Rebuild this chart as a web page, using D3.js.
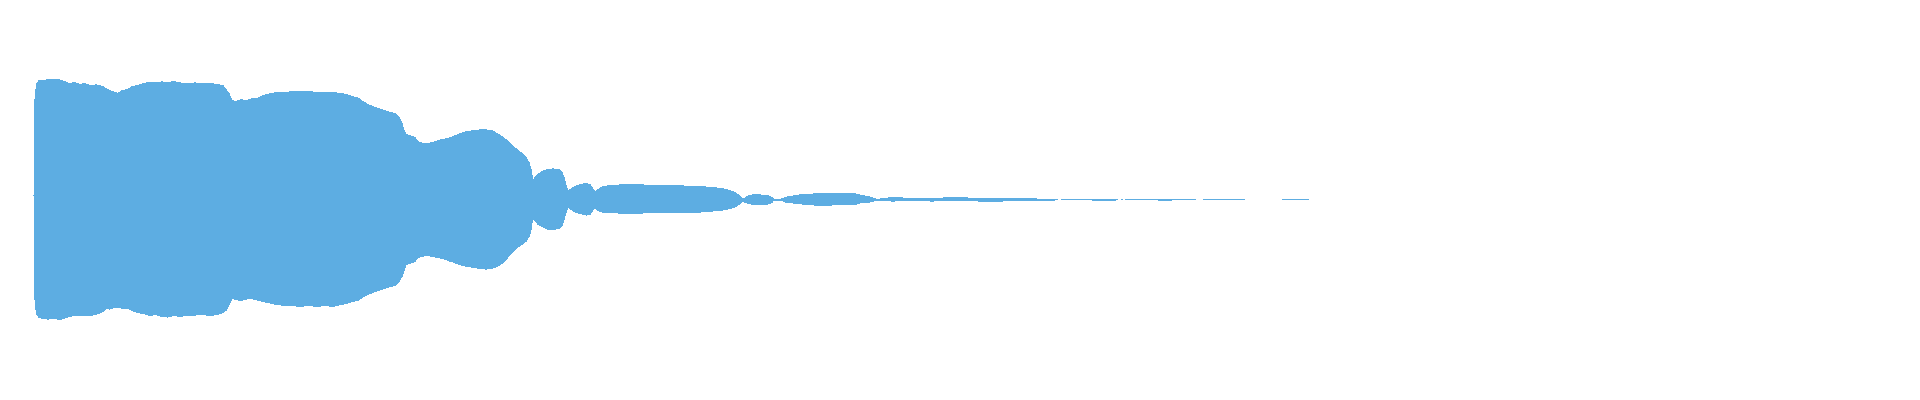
<!DOCTYPE html>
<html>
<head>
<meta charset="utf-8">
<script src="https://cdn.jsdelivr.net/npm/d3@7"></script>
<style>html,body{margin:0;padding:0;background:#fff;overflow:hidden}</style>
</head>
<body>
<svg id="chart" width="1920" height="400"></svg>
<script>
// Waveform envelope: sample time (ms), peak maximum and peak minimum (normalised amplitude, -1..1)
// null = silence (nothing drawn)
const timeMs = [
  0, 5, 10, 15, 25, 50, 70, 100, 130, 145,
  175, 205, 230, 255, 280, 310, 345, 360, 380, 405,
  420, 440, 470, 490, 520, 545, 580, 610, 640, 670,
  700, 730, 765, 805, 840, 880, 915, 945, 960, 975,
  990, 1010, 1035, 1060, 1085, 1115, 1145, 1180, 1215, 1255,
  1290, 1330, 1370, 1415, 1455, 1495, 1535, 1565, 1590, 1620,
  1645, 1670, 1695, 1720, 1750, 1780, 1805, 1825, 1840, 1850,
  1860, 1880, 1905, 1920, 1945, 1970, 1995, 2020, 2045, 2070,
  2095, 2120, 2145, 2170, 2200, 2230, 2260, 2290, 2315, 2340,
  2365, 2390, 2415, 2440, 2460, 2475, 2485, 2490, 2498, 2505,
  2520, 2540, 2565, 2595, 2625, 2640, 2650, 2660, 2670, 2680,
  2700, 2730, 2760, 2780, 2790, 2805, 2820, 2840, 2870, 2930,
  3030, 3130, 3230, 3330, 3390, 3440, 3480, 3505, 3525, 3545,
  3565, 3590, 3630, 3670, 3690, 3700, 3740, 3755, 3780, 3810,
  3845, 3905, 3980, 4055, 4105, 4140, 4180, 4215, 4240, 4295,
  4395, 4490, 4605, 4730, 4830, 4875, 5095, 5115, 5120, 5135,
  5290, 5295, 5405, 5410, 5420, 5425, 5435, 5445, 5450, 5455,
  5620, 5625, 5685, 5690, 5810, 5815, 5845, 6055, 6060, 6240,
  6375
];
const peakMax = [
  0.015, 0.5, 0.55, 0.58, 0.595, 0.595, 0.6, 0.6, 0.598, 0.593,
  0.58, 0.585, 0.575, 0.58, 0.57, 0.573, 0.565, 0.555, 0.545, 0.535,
  0.53, 0.545, 0.55, 0.565, 0.57, 0.58, 0.585, 0.583, 0.588, 0.585,
  0.59, 0.583, 0.58, 0.583, 0.578, 0.58, 0.575, 0.57, 0.55, 0.53,
  0.495, 0.49, 0.5, 0.493, 0.503, 0.505, 0.52, 0.528, 0.535, 0.533,
  0.54, 0.538, 0.54, 0.535, 0.533, 0.535, 0.53, 0.525, 0.515, 0.508,
  0.49, 0.475, 0.465, 0.455, 0.445, 0.435, 0.43, 0.41, 0.38, 0.345,
  0.325, 0.32, 0.31, 0.29, 0.28, 0.28, 0.285, 0.295, 0.3, 0.305,
  0.315, 0.325, 0.335, 0.34, 0.345, 0.348, 0.348, 0.345, 0.33, 0.315,
  0.295, 0.27, 0.25, 0.23, 0.21, 0.185, 0.15, 0.12, 0.09, 0.11,
  0.125, 0.14, 0.15, 0.153, 0.15, 0.135, 0.11, 0.07, 0.04, 0.05,
  0.063, 0.075, 0.08, 0.075, 0.06, 0.04, 0.05, 0.063, 0.068, 0.073,
  0.073, 0.07, 0.068, 0.065, 0.06, 0.055, 0.045, 0.035, 0.02, 0,
  0.015, 0.023, 0.023, 0.02, 0.01, 0, 0.003, 0.01, 0.015, 0.02,
  0.025, 0.028, 0.03, 0.03, 0.028, 0.02, 0.013, 0, 0.004, 0.01,
  0.005, 0.005, 0.01, 0.005, 0.005, 0.005, 0.001, 0.001, null, 0,
  0, 0, 0, 0, 0, null, 0, 0, null, 0,
  0, 0, 0, 0, 0, null, 0, 0, null, 0,
  0
];
const peakMin = [
  -0.015, -0.5, -0.55, -0.575, -0.59, -0.595, -0.598, -0.595, -0.6, -0.595,
  -0.585, -0.58, -0.58, -0.578, -0.58, -0.575, -0.56, -0.545, -0.548, -0.54,
  -0.54, -0.543, -0.545, -0.555, -0.565, -0.57, -0.58, -0.575, -0.585, -0.588,
  -0.58, -0.585, -0.58, -0.578, -0.575, -0.58, -0.575, -0.565, -0.555, -0.525,
  -0.495, -0.5, -0.505, -0.498, -0.495, -0.503, -0.51, -0.518, -0.525, -0.53,
  -0.53, -0.535, -0.53, -0.535, -0.53, -0.535, -0.525, -0.52, -0.51, -0.505,
  -0.488, -0.475, -0.465, -0.455, -0.445, -0.435, -0.43, -0.41, -0.385, -0.355,
  -0.325, -0.32, -0.31, -0.29, -0.283, -0.28, -0.285, -0.29, -0.295, -0.305,
  -0.313, -0.323, -0.33, -0.335, -0.34, -0.345, -0.348, -0.345, -0.335, -0.32,
  -0.295, -0.265, -0.24, -0.225, -0.21, -0.185, -0.155, -0.12, -0.09, -0.105,
  -0.125, -0.135, -0.148, -0.15, -0.145, -0.13, -0.105, -0.065, -0.035, -0.045,
  -0.06, -0.07, -0.078, -0.075, -0.06, -0.04, -0.055, -0.063, -0.065, -0.068,
  -0.068, -0.065, -0.063, -0.063, -0.058, -0.053, -0.045, -0.038, -0.025, -0.01,
  -0.018, -0.023, -0.025, -0.023, -0.015, -0.003, -0.005, -0.013, -0.015, -0.02,
  -0.023, -0.028, -0.028, -0.025, -0.025, -0.015, -0.013, -0.003, -0.005, -0.008,
  -0.003, -0.008, -0.003, -0.008, -0.01, -0.003, -0.003, -0.002, null, 0,
  0, -0.005, -0.005, 0, 0, null, 0, 0, null, 0,
  0, -0.005, -0.005, 0, 0, null, 0, 0, null, 0,
  0
];
const durationMs = 9250;
const waveColor = "#5dade2";

const svg = d3.select("#chart");
const W = 1920, H = 400;
const x = d3.scaleLinear().domain([0, durationMs]).range([34, 1884]);
const y = d3.scaleLinear().domain([-1, 1]).range([399.5, -0.5]);

const data = timeMs.map((t, i) => ({ t, hi: peakMax[i], lo: peakMin[i] }));

const area = d3.area()
  .defined(d => d.hi != null && d.lo != null)
  .x(d => x(d.t))
  .y0(d => y(d.lo))
  .y1(d => y(d.hi))
  .curve(d3.curveLinear);

svg.append("rect").attr("width", W).attr("height", H).attr("fill", "#fff");
svg.append("path")
  .datum(data)
  .attr("d", area)
  .attr("fill", waveColor)
  .attr("stroke", waveColor)
  .attr("stroke-width", 1)
  .attr("stroke-linejoin", "miter")
  .attr("shape-rendering", "crispEdges");
</script>
</body>
</html>
